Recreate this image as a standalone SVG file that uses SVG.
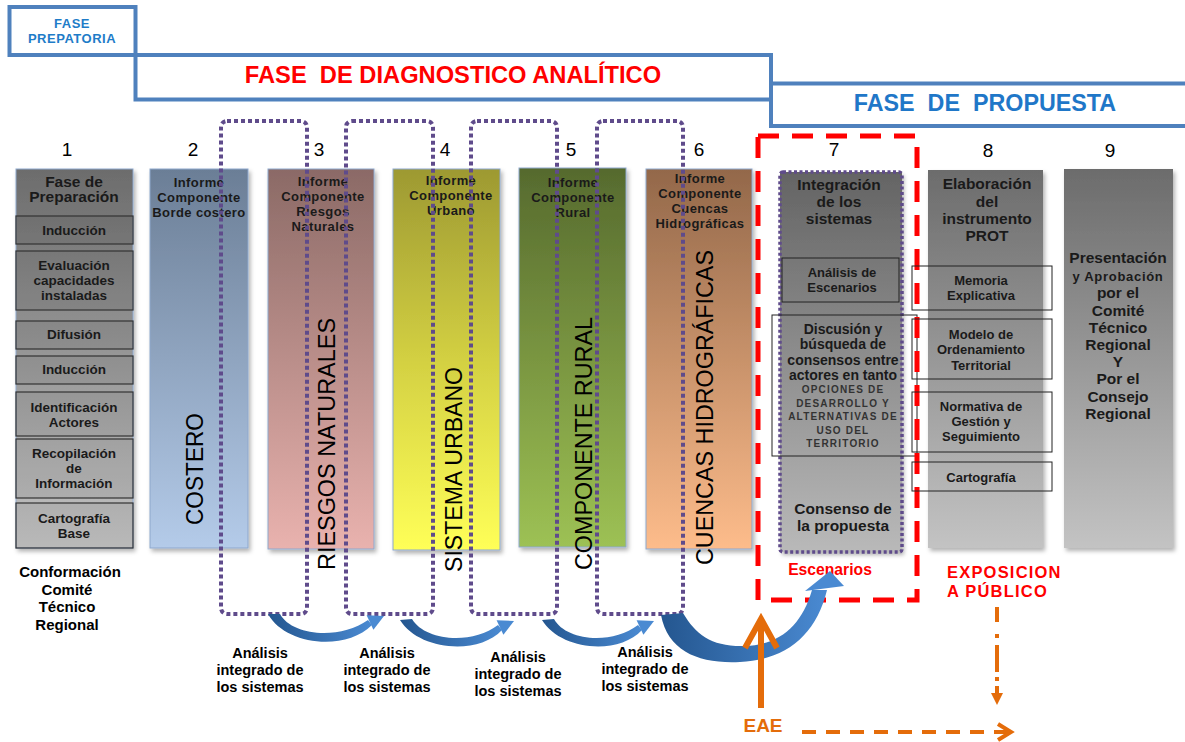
<svg xmlns="http://www.w3.org/2000/svg" width="1185" height="742" viewBox="0 0 1185 742">
<defs>
<linearGradient id="gGray" x1="0" y1="169" x2="0" y2="548" gradientUnits="userSpaceOnUse"><stop offset="0" stop-color="#6c6c6c"/><stop offset="1" stop-color="#c3c3c3"/></linearGradient>
<linearGradient id="gGray7" x1="0" y1="172" x2="0" y2="552" gradientUnits="userSpaceOnUse"><stop offset="0" stop-color="#646464"/><stop offset="1" stop-color="#b9b9b9"/></linearGradient>
<linearGradient id="gBlue" x1="0" y1="0" x2="0" y2="1"><stop offset="0" stop-color="#6b7e96"/><stop offset="1" stop-color="#b4cbe9"/></linearGradient>
<linearGradient id="gPink" x1="0" y1="0" x2="0" y2="1"><stop offset="0" stop-color="#8b6a66"/><stop offset="1" stop-color="#e9b2ae"/></linearGradient>
<linearGradient id="gYel" x1="0" y1="0" x2="0" y2="1"><stop offset="0" stop-color="#9d9932"/><stop offset="0.5" stop-color="#d3d042"/><stop offset="1" stop-color="#ffff58"/></linearGradient>
<linearGradient id="gGreen" x1="0" y1="0" x2="0" y2="1"><stop offset="0" stop-color="#566a2e"/><stop offset="1" stop-color="#9dc154"/></linearGradient>
<linearGradient id="gBrown" x1="0" y1="0" x2="0" y2="1"><stop offset="0" stop-color="#93684a"/><stop offset="1" stop-color="#fdbc8b"/></linearGradient>
<linearGradient id="gArr" x1="0" y1="0" x2="1" y2="0"><stop offset="0" stop-color="#24568f"/><stop offset="1" stop-color="#4a8ad2"/></linearGradient>
<filter id="sh" x="-10%" y="-5%" width="130%" height="115%"><feDropShadow dx="2" dy="3" stdDeviation="2" flood-color="#000" flood-opacity="0.3"/></filter>
</defs>
<style>
.hdr{fill:none;stroke:#4F81BD;stroke-width:4}
.num{font-family:"Liberation Sans",Arial,sans-serif;font-size:19px;fill:#000;text-anchor:middle}
.b{font-family:"Liberation Sans",Arial,sans-serif;font-weight:bold;text-anchor:middle;fill:#1a1a1a}
.s13{font-size:13px}
.s135{font-size:13.5px}
.s14{font-size:14px}
.s145{font-size:14.5px;fill:#000}
.s155{font-size:15.5px}
.inf{font-size:13px;letter-spacing:0.4px}
.cap{font-size:10px;letter-spacing:1.2px;fill:#333}
.col{stroke:#8ea7cc;stroke-width:1}
.sub{fill:#000;fill-opacity:0.05;stroke:#333;stroke-width:1.2}
.box{fill:none;stroke:#222;stroke-width:1}
.dot{fill:none;stroke:#5f4b8b;stroke-width:4;stroke-dasharray:4 3}
.vt{font-family:"Liberation Sans",Arial,sans-serif;font-size:24px;fill:#000}
.or{stroke:#E46C0A;fill:none}
</style>

<g id="headers">
<rect class="hdr" x="9.5" y="7" width="126" height="48"/>
<text class="b" x="72" y="28" style="font-size:13px;fill:#1E7CC8;letter-spacing:0.5px">FASE</text>
<text class="b" x="72" y="43" style="font-size:13px;fill:#1E7CC8;letter-spacing:0.5px">PREPATORIA</text>
<rect class="hdr" x="135.5" y="55" width="635.5" height="44.5"/>
<text class="b" x="453" y="83" style="font-size:23.7px;fill:#FF0000;white-space:pre">FASE  DE DIAGNOSTICO ANALÍTICO</text>
<path class="hdr" d="M1190,83.5 H771 V126 H1190"/>
<text class="b" x="985" y="111" style="font-size:23.3px;fill:#1F77C8;white-space:pre">FASE  DE  PROPUESTA</text>
</g>

<g id="numbers">
<text class="num" x="67" y="156">1</text>
<text class="num" x="193" y="156">2</text>
<text class="num" x="319" y="156">3</text>
<text class="num" x="445" y="156">4</text>
<text class="num" x="571" y="156">5</text>
<text class="num" x="699" y="156">6</text>
<text class="num" x="834" y="156">7</text>
<text class="num" x="988" y="157">8</text>
<text class="num" x="1110" y="157">9</text>
</g>

<g id="col1">
<rect class="col" x="16" y="169" width="117" height="379" fill="url(#gGray)" filter="url(#sh)"/>
<text class="b s155" x="74" y="187">Fase de</text>
<text class="b s155" x="74" y="202">Preparación</text>
<rect class="sub" x="16" y="216" width="117" height="28"/>
<text class="b s135" x="74" y="235">Inducción</text>
<rect class="sub" x="16" y="251" width="117" height="59"/>
<text class="b s135" x="74" y="270">Evaluación</text>
<text class="b s135" x="74" y="285">capacidades</text>
<text class="b s135" x="74" y="300">instaladas</text>
<rect class="sub" x="16" y="321" width="117" height="28"/>
<text class="b s135" x="74" y="339">Difusión</text>
<rect class="sub" x="16" y="356" width="117" height="28"/>
<text class="b s135" x="74" y="374">Inducción</text>
<rect class="sub" x="16" y="392" width="117" height="44"/>
<text class="b s135" x="74" y="412">Identificación</text>
<text class="b s135" x="74" y="427">Actores</text>
<rect class="sub" x="16" y="439" width="117" height="59"/>
<text class="b s135" x="74" y="458">Recopilación</text>
<text class="b s135" x="74" y="473">de</text>
<text class="b s135" x="74" y="488">Información</text>
<rect class="sub" x="16" y="503" width="117" height="45"/>
<text class="b s135" x="74" y="523">Cartografía</text>
<text class="b s135" x="74" y="538">Base</text>
<text class="b" x="70" y="577" style="font-size:15px;fill:#000">Conformación</text>
<text class="b" x="67" y="595" style="font-size:15px;fill:#000">Comité</text>
<text class="b" x="67" y="612" style="font-size:15px;fill:#000">Técnico</text>
<text class="b" x="67" y="630" style="font-size:15px;fill:#000">Regional</text>
</g>

<g id="col2">
<rect class="col" x="150" y="169" width="98" height="379" fill="url(#gBlue)" filter="url(#sh)"/>
<text class="b inf" x="199" y="187">Informe</text>
<text class="b inf" x="199" y="202">Componente</text>
<text class="b inf" x="199" y="217">Borde costero</text>
<text class="vt" transform="translate(203,525) rotate(-90)" textLength="112" lengthAdjust="spacingAndGlyphs">COSTERO</text>
</g>

<g id="col3">
<rect class="col" x="268" y="169" width="106" height="380" fill="url(#gPink)" filter="url(#sh)"/>
<text class="b inf" x="323" y="186">Informe</text>
<text class="b inf" x="323" y="201">Componente</text>
<text class="b inf" x="323" y="216">Riesgos</text>
<text class="b inf" x="323" y="231">Naturales</text>
<text class="vt" transform="translate(335,570) rotate(-90)" textLength="252" lengthAdjust="spacingAndGlyphs">RIESGOS NATURALES</text>
</g>

<g id="col4">
<rect class="col" x="393" y="169" width="107" height="381" fill="url(#gYel)" filter="url(#sh)"/>
<text class="b inf" x="451" y="185">Informe</text>
<text class="b inf" x="451" y="200">Componente</text>
<text class="b inf" x="451" y="215">Urbano</text>
<text class="vt" transform="translate(462,572) rotate(-90)" textLength="205" lengthAdjust="spacingAndGlyphs">SISTEMA URBANO</text>
</g>

<g id="col5">
<rect class="col" x="519" y="168" width="107" height="379" fill="url(#gGreen)" filter="url(#sh)"/>
<text class="b inf" x="573" y="187">Informe</text>
<text class="b inf" x="573" y="202">Componente</text>
<text class="b inf" x="573" y="217">Rural</text>
<text class="vt" transform="translate(592,570) rotate(-90)" textLength="253" lengthAdjust="spacingAndGlyphs">COMPONENTE RURAL</text>
</g>

<g id="col6">
<rect class="col" x="646" y="169" width="106" height="380" fill="url(#gBrown)" filter="url(#sh)"/>
<text class="b inf" x="700" y="183">Informe</text>
<text class="b inf" x="700" y="198">Componente</text>
<text class="b inf" x="700" y="213">Cuencas</text>
<text class="b inf" x="700" y="228">Hidrográficas</text>
<text class="vt" transform="translate(713,565) rotate(-90)" textLength="315" lengthAdjust="spacingAndGlyphs">CUENCAS HIDROGRÁFICAS</text>
</g>

<g id="col7">
<rect x="780" y="172" width="122" height="380" fill="url(#gGray7)" filter="url(#sh)"/>
<rect x="780" y="172" width="122" height="380" rx="3" fill="none" stroke="#5f4b8b" stroke-width="3.5" stroke-dasharray="3 2.5"/>
<text class="b s155" x="839" y="189.5">Integración</text>
<text class="b s155" x="839" y="206.5">de los</text>
<text class="b s155" x="839" y="223.5">sistemas</text>
<rect class="box" x="782" y="258" width="117" height="44"/>
<text class="b s13" x="842" y="277">Análisis de</text>
<text class="b s13" x="842" y="292">Escenarios</text>
<rect class="box" x="772" y="315" width="145" height="141"/>
<text class="b s14" x="843" y="334">Discusión y</text>
<text class="b s14" x="843" y="349">búsqueda de</text>
<text class="b s14" x="843" y="364.5">consensos entre</text>
<text class="b s14" x="843" y="380">actores en tanto</text>
<text class="b cap" x="843" y="393">OPCIONES DE</text>
<text class="b cap" x="843" y="406.5">DESARROLLO Y</text>
<text class="b cap" x="843" y="420">ALTERNATIVAS  DE</text>
<text class="b cap" x="843" y="433.5">USO DEL</text>
<text class="b cap" x="843" y="447">TERRITORIO</text>
<text class="b s155" x="843" y="514">Consenso de</text>
<text class="b s155" x="843" y="531">la propuesta</text>
<rect x="758" y="136" width="159" height="464" fill="none" stroke="#FF0000" stroke-width="5" stroke-dasharray="21 13"/>
<text class="b" x="830" y="575" style="font-size:15.7px;fill:#FF0000">Escenarios</text>
</g>

<g id="col8">
<rect x="928" y="170" width="115" height="378" fill="url(#gGray)" filter="url(#sh)"/>
<text class="b s155" x="987" y="189">Elaboración</text>
<text class="b s155" x="987" y="206.5">del</text>
<text class="b s155" x="987" y="224">instrumento</text>
<text class="b s155" x="987" y="241">PROT</text>
<rect class="box" x="912" y="266" width="140" height="44"/>
<text class="b s13" x="981" y="285">Memoria</text>
<text class="b s13" x="981" y="300">Explicativa</text>
<rect class="box" x="912" y="319" width="140" height="60"/>
<text class="b s13" x="981" y="339">Modelo de</text>
<text class="b s13" x="981" y="354">Ordenamiento</text>
<text class="b s13" x="981" y="370">Territorial</text>
<rect class="box" x="912" y="392" width="140" height="60"/>
<text class="b s13" x="981" y="411">Normativa de</text>
<text class="b s13" x="981" y="426">Gestión y</text>
<text class="b s13" x="981" y="441">Seguimiento</text>
<rect class="box" x="912" y="462" width="140" height="29"/>
<text class="b s13" x="981" y="482">Cartografía</text>
<text class="b" x="947" y="578" style="font-size:16.5px;fill:#FF0000;text-anchor:start;letter-spacing:1.2px">EXPOSICION</text>
<text class="b" x="947" y="597" style="font-size:16.5px;fill:#FF0000;text-anchor:start;letter-spacing:1.2px">A PÚBLICO</text>
</g>

<g id="col9">
<rect x="1064" y="169" width="109" height="379" fill="url(#gGray)" filter="url(#sh)"/>
<text class="b s155" x="1118" y="263">Presentación</text>
<text class="b" x="1118" y="281" style="font-size:13px;letter-spacing:0.7px">y Aprobación</text>
<text class="b s155" x="1118" y="298">por el</text>
<text class="b s155" x="1118" y="316">Comité</text>
<text class="b s155" x="1118" y="333">Técnico</text>
<text class="b s155" x="1118" y="350">Regional</text>
<text class="b s155" x="1118" y="367">Y</text>
<text class="b s155" x="1118" y="384">Por el</text>
<text class="b s155" x="1118" y="402">Consejo</text>
<text class="b s155" x="1118" y="419">Regional</text>
</g>

<g id="integration-frames">
<rect class="dot" x="221" y="121" width="86" height="493" rx="6"/>
<rect class="dot" x="346" y="121" width="87" height="493" rx="6"/>
<rect class="dot" x="471" y="121" width="86" height="493" rx="6"/>
<rect class="dot" x="597" y="121" width="86" height="493" rx="6"/>
</g>

<g id="labels">
<text class="b s145" x="260" y="658">Análisis</text>
<text class="b s145" x="260" y="675">integrado de</text>
<text class="b s145" x="260" y="692">los sistemas</text>
<text class="b s145" x="387" y="658">Análisis</text>
<text class="b s145" x="387" y="675">integrado de</text>
<text class="b s145" x="387" y="692">los sistemas</text>
<text class="b s145" x="518" y="662">Análisis</text>
<text class="b s145" x="518" y="679">integrado de</text>
<text class="b s145" x="518" y="696">los sistemas</text>
<text class="b s145" x="645" y="657">Análisis</text>
<text class="b s145" x="645" y="674">integrado de</text>
<text class="b s145" x="645" y="691">los sistemas</text>
<text class="b" x="763" y="732" style="font-size:19px;fill:#E46C0A">EAE</text>
</g>

<g id="connectors">
<path d="M268,614 C285,645 345,652 372,625 L368,620 C340,640 292,636 280,614 Z" fill="url(#gArr)"/>
<polygon points="384,616 373.4,629.7 366.6,615.3" fill="#4a8ad2"/>
<path d="M400,620 C418,650 478,656 502,630 L498,625 C472,645 425,641 412,619 Z" fill="url(#gArr)"/>
<polygon points="514,621 503.4,634.7 496.6,620.3" fill="#4a8ad2"/>
<path d="M542,620 C560,650 618,656 642,630 L638,625 C612,645 566,641 554,619 Z" fill="url(#gArr)"/>
<polygon points="654,621 643.4,634.7 636.6,620.3" fill="#4a8ad2"/>
<path d="M661,615 C668,652 700,664 740,662 C785,660 816,636 827,590 L812,590 C802,625 780,645 745,646 C712,647 696,635 683,613 Z" fill="url(#gArr)"/>
<polygon points="805,591 844,586 830,571" fill="#4a8ad2"/>
<line class="or" x1="761" y1="708" x2="761" y2="620" stroke-width="6"/>
<polyline class="or" points="745,648 761,619 777,648" stroke-width="6"/>
<line class="or" x1="802" y1="732" x2="1008" y2="732" stroke-width="4" stroke-dasharray="14 10"/>
<polyline class="or" points="998,724 1011,732 998,740" stroke-width="4"/>
<path class="or" d="M997,607V622 M997,634V638 M997,645V672 M997,677V681 M997,686V695" stroke-width="4"/>
<polygon points="991,693 1003,693 997,705" fill="#E46C0A"/>
</g>
</svg>
